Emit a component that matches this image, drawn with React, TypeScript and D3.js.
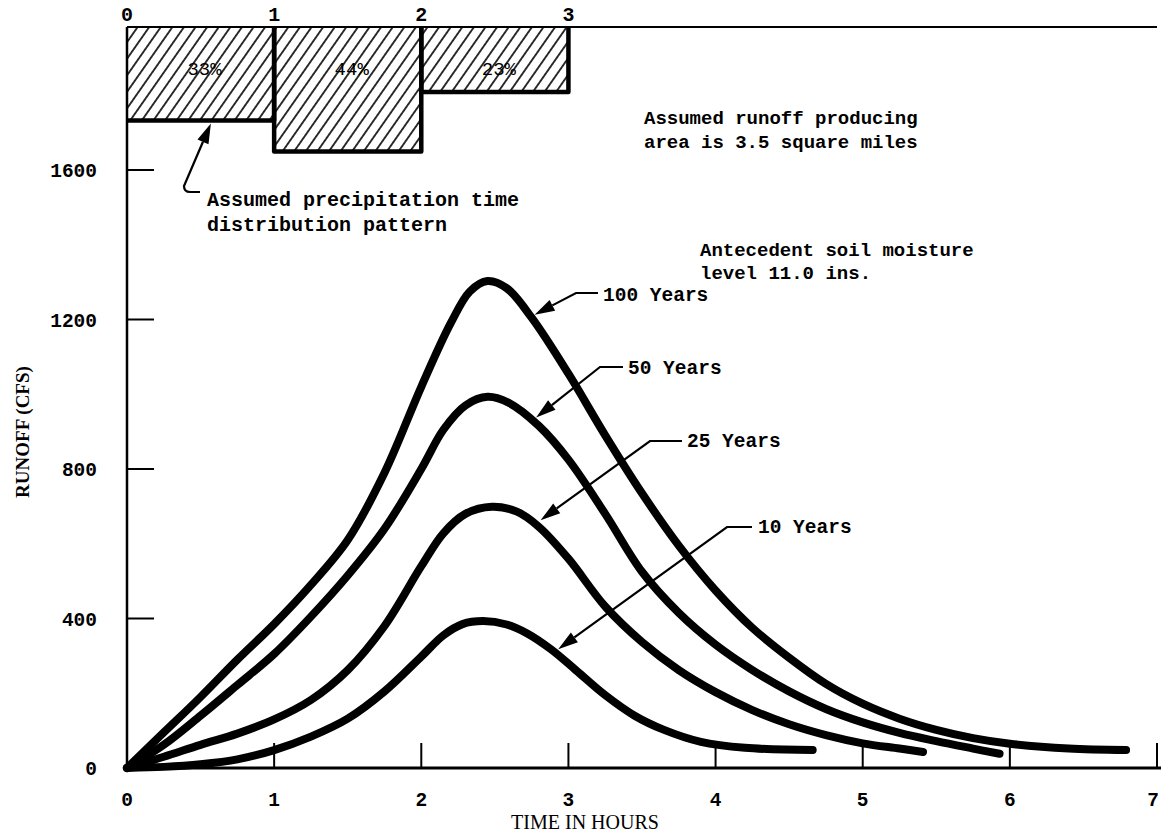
import React from "react";
import * as d3 from "d3";

// Axis ticks
const hourTicks = [0, 1, 2, 3, 4, 5, 6, 7];
const runoffTicks = [0, 400, 800, 1200, 1600];

// Precipitation time distribution (hour boundaries and share of storm depth, %)
const stormHours = [0, 1, 2, 3];
const rainShare = [33, 44, 23];

// Runoff hydrographs: [time in hours, runoff in cfs]
const hundredYear: [number, number][] = [
  [0, 0], [0.25, 95], [0.5, 190], [0.75, 290], [1.0, 385], [1.25, 490],
  [1.5, 610], [1.75, 790], [2.0, 1020], [2.2, 1190], [2.33, 1275],
  [2.45, 1303], [2.58, 1284], [2.75, 1205], [3.0, 1055], [3.25, 890],
  [3.5, 735], [3.75, 595], [4.0, 475], [4.25, 375], [4.5, 295],
  [4.75, 225], [5.0, 172], [5.25, 132], [5.5, 102], [5.75, 80],
  [6.0, 65], [6.4, 52], [6.79, 48],
];
const fiftyYear: [number, number][] = [
  [0, 0], [0.25, 62], [0.5, 140], [0.75, 222], [1.0, 305], [1.25, 405],
  [1.5, 515], [1.75, 640], [2.0, 800], [2.15, 905], [2.3, 970],
  [2.45, 993], [2.6, 976], [2.8, 915], [3.0, 825], [3.25, 680],
  [3.5, 525], [3.75, 415], [4.0, 330], [4.25, 262], [4.5, 205],
  [4.75, 158], [5.0, 122], [5.25, 94], [5.5, 72], [5.75, 52], [5.93, 38],
];
const twentyFiveYear: [number, number][] = [
  [0, 0], [0.25, 30], [0.5, 62], [0.75, 92], [1.0, 130], [1.25, 182],
  [1.5, 262], [1.75, 380], [2.0, 540], [2.15, 628], [2.3, 680],
  [2.48, 699], [2.65, 686], [2.8, 645], [3.0, 560], [3.25, 432],
  [3.5, 337], [3.75, 262], [4.0, 203], [4.25, 155], [4.5, 117],
  [4.75, 88], [5.0, 66], [5.25, 52], [5.41, 43],
];
const tenYear: [number, number][] = [
  [0, 0], [0.25, 3], [0.5, 10], [0.75, 23], [1.0, 48], [1.25, 84],
  [1.5, 132], [1.75, 205], [2.0, 298], [2.15, 355], [2.28, 385],
  [2.42, 393], [2.58, 384], [2.72, 360], [2.88, 318], [3.05, 262],
  [3.25, 195], [3.45, 140], [3.65, 102], [3.9, 70], [4.2, 54], [4.66, 48],
];

const hydrographs = [hundredYear, fiftyYear, twentyFiveYear, tenYear];
const returnPeriods = ["100 Years", "50 Years", "25 Years", "10 Years"];
// Point on each hydrograph that its label arrow touches: [hour, cfs]
const labelTargets: [number, number][] = [
  [2.75, 1205], [2.76, 930], [2.79, 655], [2.91, 310],
];

// Label layout in pixels: text origin and the short horizontal leader
const labelLayout = [
  { tx: 603, ty: 301, hy: 293, hx0: 576, hx1: 598 },
  { tx: 628, ty: 374, hy: 367, hx0: 600, hx1: 623 },
  { tx: 687, ty: 447, hy: 441, hx0: 650, hx1: 682 },
  { tx: 758, ty: 533, hy: 527, hx0: 727, hx1: 752 },
];

const W = 1161;
const H = 837;
const TOP = 27;
const MONO = "'Liberation Mono', 'DejaVu Sans Mono', monospace";
const SERIF = "'Liberation Serif', 'DejaVu Serif', serif";

const x = d3.scaleLinear().domain([0, 7]).range([127, 1157]);
const y = d3.scaleLinear().domain([0, 1600]).range([768, 170]);
// Storm-share bars hang down from the top rule
const depth = d3.scaleLinear().domain([0, 50]).range([TOP, TOP + 141.5]);

const line = d3
  .line<[number, number]>()
  .x((d) => x(d[0]))
  .y((d) => y(d[1]))
  .curve(d3.curveCatmullRom.alpha(0.5));

function arrowHead(tip: [number, number], from: [number, number], len = 20, half = 6) {
  const dx = from[0] - tip[0];
  const dy = from[1] - tip[1];
  const L = Math.hypot(dx, dy);
  const ux = dx / L;
  const uy = dy / L;
  const bx = tip[0] + ux * len;
  const by = tip[1] + uy * len;
  const px = -uy * half;
  const py = ux * half;
  return {
    base: [bx, by] as [number, number],
    points: `${tip[0]},${tip[1]} ${bx + px},${by + py} ${bx - px},${by - py}`,
  };
}

export default function App() {
  const bars = rainShare.map((share, i) => ({
    x0: x(stormHours[i]),
    x1: x(stormHours[i + 1]),
    yb: depth(share),
    label: `${share}%`,
  }));

  // Arrow from the caption up to the underside of the first bar
  const precipTip: [number, number] = [x(0.57), depth(rainShare[0]) + 3];
  const precipElbow: [number, number] = [184, 186];
  const precipHead = arrowHead(precipTip, precipElbow, 20, 6);

  return (
    <svg
      width={W}
      height={H}
      style={{ position: "absolute", left: 0, top: 0, background: "#fff" }}
    >
      <defs>
        <pattern
          id="hatch"
          width={9.5}
          height={9.5}
          patternUnits="userSpaceOnUse"
          patternTransform="rotate(35)"
        >
          <line x1={4.75} y1={0} x2={4.75} y2={9.5} stroke="#000" strokeWidth={1.6} />
        </pattern>
      </defs>

      {/* Storm-share bars */}
      {bars.map((b, i) => (
        <g key={i}>
          <rect x={b.x0} y={TOP} width={b.x1 - b.x0} height={b.yb - TOP} fill="url(#hatch)" />
          <path
            d={
              i === 0
                ? `M${b.x0},${b.yb} H${b.x1} V${TOP}`
                : `M${b.x0},${TOP} V${b.yb} H${b.x1} V${TOP}`
            }
            fill="none"
            stroke="#000"
            strokeWidth={4.5}
            strokeLinejoin="round"
          />
          <text
            x={(b.x0 + b.x1) / 2 + 4}
            y={75}
            textAnchor="middle"
            fontFamily={MONO}
            fontSize={19}
            fill="#000"
          >
            {b.label}
          </text>
        </g>
      ))}

      {/* Top rule with storm hour labels */}
      <line x1={x(0)} x2={x(7)} y1={TOP} y2={TOP} stroke="#000" strokeWidth={2.2} />
      {stormHours.map((h) => (
        <text
          key={h}
          x={x(h)}
          y={21}
          textAnchor="middle"
          fontFamily={MONO}
          fontWeight="bold"
          fontSize={20}
          fill="#000"
        >
          {h}
        </text>
      ))}

      {/* Axes */}
      <line x1={x(0)} x2={x(0)} y1={TOP} y2={y(0)} stroke="#000" strokeWidth={2.5} />
      <line x1={x(0)} x2={W} y1={y(0)} y2={y(0)} stroke="#000" strokeWidth={3} />
      {runoffTicks.map((v) => (
        <g key={v}>
          {v > 0 && (
            <line x1={x(0)} x2={x(0) + 27} y1={y(v)} y2={y(v)} stroke="#000" strokeWidth={2} />
          )}
          <text
            x={97}
            y={y(v) + 7}
            textAnchor="end"
            fontFamily={MONO}
            fontWeight="bold"
            fontSize={19.5}
            fill="#000"
          >
            {v}
          </text>
        </g>
      ))}
      {hourTicks.map((h) => (
        <g key={h}>
          {h > 0 && (
            <line x1={x(h)} x2={x(h)} y1={y(0)} y2={y(0) - 25} stroke="#000" strokeWidth={2} />
          )}
          <text
            x={Math.min(x(h), W - 8)}
            y={806}
            textAnchor="middle"
            fontFamily={MONO}
            fontWeight="bold"
            fontSize={19.5}
            fill="#000"
          >
            {h}
          </text>
        </g>
      ))}
      <text
        x={585}
        y={829}
        textAnchor="middle"
        fontFamily={SERIF}
        fontSize={20}
        fill="#000"
      >
        TIME IN HOURS
      </text>
      <text
        transform={`translate(29,432) rotate(-90)`}
        textAnchor="middle"
        fontFamily={SERIF}
        fontWeight="bold"
        fontSize={19}
        fill="#000"
      >
        RUNOFF (CFS)
      </text>

      {/* Hydrographs */}
      {hydrographs.map((s, i) => (
        <path
          key={i}
          d={line(s) ?? ""}
          fill="none"
          stroke="#000"
          strokeWidth={8}
          strokeLinecap="round"
          strokeLinejoin="round"
        />
      ))}

      {/* Return-period labels with arrows */}
      {returnPeriods.map((name, i) => {
        const L = labelLayout[i];
        const tip: [number, number] = [x(labelTargets[i][0]) + 3, y(labelTargets[i][1]) - 3];
        const head = arrowHead(tip, [L.hx0, L.hy]);
        return (
          <g key={name}>
            <polyline
              points={`${L.hx1},${L.hy} ${L.hx0},${L.hy} ${head.base[0]},${head.base[1]}`}
              fill="none"
              stroke="#000"
              strokeWidth={2.2}
            />
            <polygon points={head.points} fill="#000" />
            <text
              x={L.tx}
              y={L.ty}
              fontFamily={MONO}
              fontWeight="bold"
              fontSize={19.5}
              fill="#000"
            >
              {name}
            </text>
          </g>
        );
      })}

      {/* Caption for the storm-share bars */}
      <path
        d={`M${precipHead.base[0]},${precipHead.base[1]} L${precipElbow[0]},${precipElbow[1]} Q${precipElbow[0]},${precipElbow[1] + 6} ${precipElbow[0] + 6},${precipElbow[1] + 6} L200,${precipElbow[1] + 6}`}
        fill="none"
        stroke="#000"
        strokeWidth={2.2}
      />
      <polygon points={precipHead.points} fill="#000" />
      <g fontFamily={MONO} fontWeight="bold" fontSize={20} fill="#000">
        <text x={207} y={206}>Assumed precipitation time</text>
        <text x={207} y={231}>distribution pattern</text>
      </g>

      {/* Notes */}
      <g fontFamily={MONO} fontWeight="bold" fontSize={19} fill="#000">
        <text x={644} y={124}>Assumed runoff producing</text>
        <text x={644} y={148}>area is 3.5 square miles</text>
        <text x={700} y={256}>Antecedent soil moisture</text>
        <text x={700} y={279}>level 11.0 ins.</text>
      </g>
    </svg>
  );
}
